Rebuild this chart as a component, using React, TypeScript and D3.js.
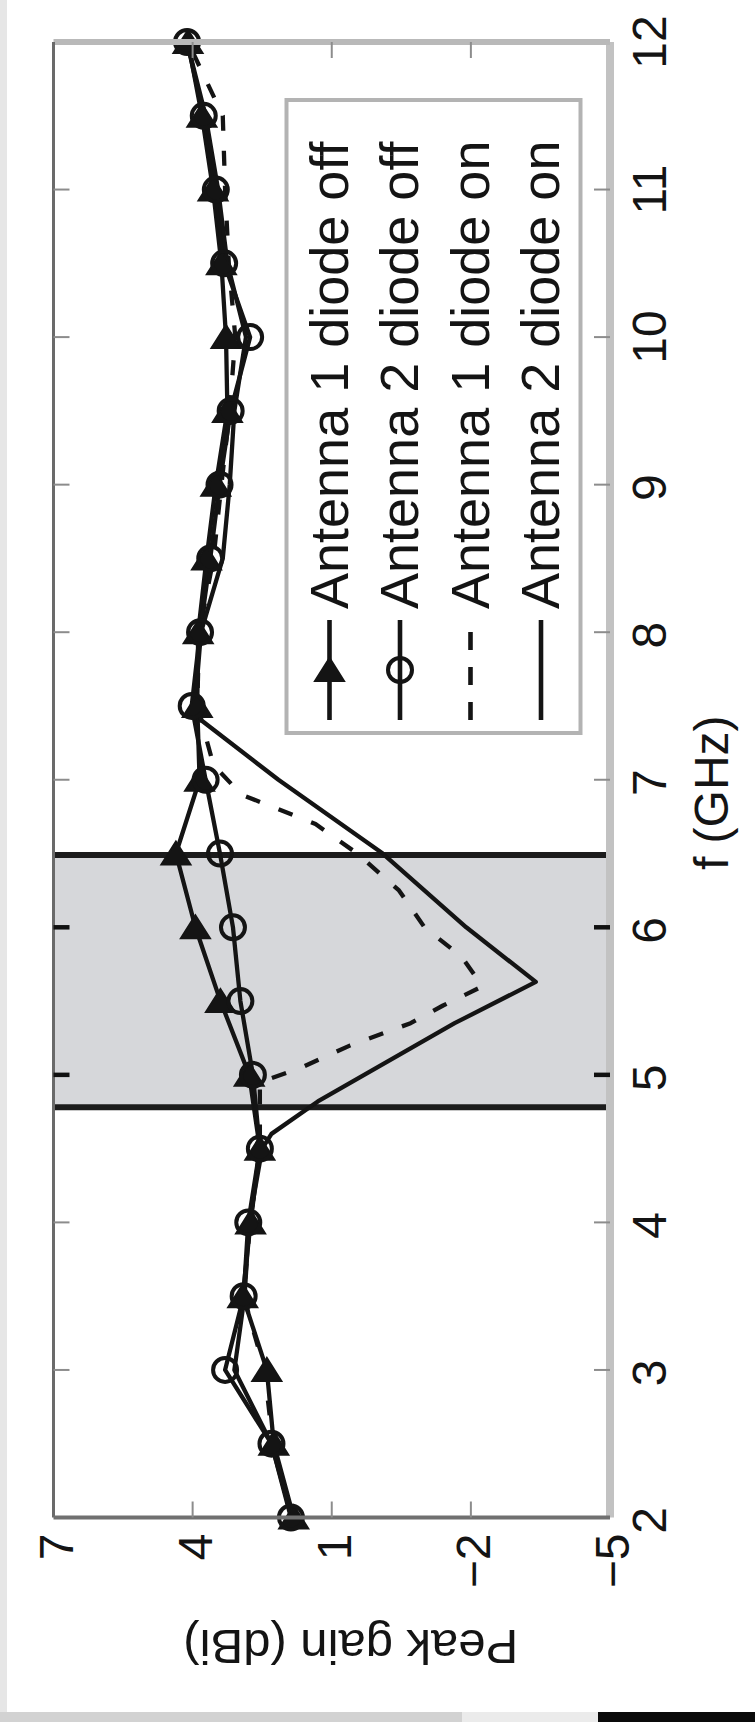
import React from 'react';
import * as d3 from 'd3';

// Frequency grid of the measured (diode off) curves, GHz
const freqOff = [2, 2.5, 3, 3.5, 4, 4.5, 5, 5.5, 6, 6.5, 7, 7.5, 8, 8.5, 9, 9.5, 10, 10.5, 11, 11.5, 12];
// Peak gain, dBi
const ant1Off = [1.82, 2.25, 2.4, 2.92, 2.75, 2.55, 2.78, 3.4, 3.94, 4.36, 3.85, 3.9, 3.88, 3.7, 3.5, 3.25, 3.28, 3.38, 3.56, 3.8, 4.1];
const ant2Off = [1.88, 2.3, 3.3, 2.9, 2.8, 2.55, 2.7, 2.97, 3.13, 3.41, 3.72, 4.02, 3.84, 3.62, 3.42, 3.18, 2.76, 3.32, 3.5, 3.76, 4.12];

// Diode on curves (notch around 5.6 GHz)
const freqAnt1On = [2, 2.5, 3, 3.5, 4, 4.5, 4.95, 5.05, 5.2, 5.35, 5.47, 5.6, 5.8, 6.0, 6.25, 6.5, 6.7, 6.9, 7.1, 7.5, 8, 8.5, 9, 9.5, 10, 10.5, 11, 11.5, 12];
const ant1On = [1.84, 2.27, 2.45, 2.9, 2.76, 2.55, 2.55, 1.65, 0.6, -0.7, -1.4, -2.25, -1.8, -1.0, -0.45, 0.45, 1.35, 2.95, 3.55, 3.9, 3.86, 3.55, 3.38, 3.2, 3.08, 3.22, 3.3, 3.35, 4.1];
const freqAnt2On = [2, 2.5, 3, 3.5, 4, 4.5, 4.6, 4.82, 5.35, 5.63, 6.0, 6.5, 7.0, 7.4, 7.5, 8, 8.5, 9, 9.5, 10, 10.5, 11, 11.5, 12];
const ant2On = [1.86, 2.3, 3.1, 2.88, 2.78, 2.5, 2.3, 1.3, -1.65, -3.4, -1.9, -0.1, 2.15, 3.8, 3.95, 3.82, 3.35, 3.2, 3.1, 2.85, 3.25, 3.45, 3.72, 4.12];

const freqTicks = [2, 3, 4, 5, 6, 7, 8, 9, 10, 11, 12];
const gainTicks = [7, 4, 1, -2, -5];
const notchBand = [4.78, 6.49];
const legendLabels = ['Antenna 1 diode off', 'Antenna 2 diode off', 'Antenna 1 diode on', 'Antenna 2 diode on'];

const FONT = '"Liberation Sans", Arial, Helvetica, sans-serif';
const INK = '#141414';

type Pt = [number, number];
const pair = (f: number[], g: number[]): Pt[] => f.map((v, i) => [v, g[i]] as Pt);
const fmtGain = (g: number) => (g < 0 ? '\u2212' + Math.abs(g) : String(g));

export default function App() {
  // plot frame on the page (the chart is drawn turned a quarter turn)
  const left = 53.5;
  const right = 610;
  const top = 42;
  const bottom = 1517.5;
  const W = bottom - top; // frequency extent
  const H = right - left; // gain extent

  const x = d3.scaleLinear().domain([2, 12]).range([0, W]);
  const y = d3.scaleLinear().domain([-5, 7]).range([H, 0]);
  const line = d3.line<Pt>().x(d => x(d[0])).y(d => y(d[1]));

  const triPath = 'M12,0L-11,-14.5L-11,14.5Z';
  const dash = '15 20';
  const lw = 4.3;

  const a1off = pair(freqOff, ant1Off);
  const a2off = pair(freqOff, ant2Off);
  const a1on = pair(freqAnt1On, ant1On);
  const a2on = pair(freqAnt2On, ant2On);

  const tickLen = 16;
  const bandTick = (f: number) => f > notchBand[0] && f < notchBand[1];

  // legend layout in chart coordinates
  const lgX0 = 784.5;
  const lgX1 = 1417.5;
  const lgY0 = 233;
  const lgY1 = 527;
  const entryY = (i: number) => 276 + i * 70.5;

  return (
    <svg
      width={755}
      height={1722}
      style={{ position: 'absolute', left: 0, top: 0, display: 'block' }}
      fontFamily={FONT}
    >
      <rect width={755} height={1722} fill="#ffffff" />
      <rect x={0} y={0} width={7} height={1712} fill="#e6e6e6" />
      <rect x={0} y={1712} width={462} height={10} fill="#d2d2d2" />
      <rect x={462} y={1712} width={136} height={10} fill="#ebebeb" />
      <rect x={598} y={1712} width={157} height={10} fill="#0a0a0a" />

      <g transform={`translate(${left},${bottom}) rotate(-90)`}>
        <defs>
          <clipPath id="plotClip">
            <rect x={0} y={0} width={W} height={H} />
          </clipPath>
        </defs>

        {/* notch band */}
        <rect
          x={x(notchBand[0])}
          y={0}
          width={x(notchBand[1]) - x(notchBand[0])}
          height={H}
          fill="#d6d7da"
        />
        {notchBand.map(f => (
          <line key={f} x1={x(f)} x2={x(f)} y1={0} y2={H} stroke="#1c1c1c" strokeWidth={6} />
        ))}

        {/* curves */}
        <g clipPath="url(#plotClip)" fill="none" stroke={INK} strokeWidth={lw} strokeLinejoin="round">
          <path d={line(a1off) || ''} />
          <path d={line(a2off) || ''} />
          <path d={line(a1on) || ''} strokeDasharray={dash} />
          <path d={line(a2on) || ''} />
        </g>
        <g>
          {a1off.map((d, i) => (
            <path key={'t' + i} d={triPath} transform={`translate(${x(d[0])},${y(d[1])})`} fill={INK} stroke={INK} strokeWidth={2} />
          ))}
          {a2off.map((d, i) => (
            <circle key={'c' + i} cx={x(d[0])} cy={y(d[1])} r={12} fill="none" stroke={INK} strokeWidth={4} />
          ))}
        </g>

        {/* frame */}
        <line x1={0} x2={W} y1={H} y2={H} stroke="#c2c2c2" strokeWidth={8} />
        <line x1={W} x2={W} y1={0} y2={H} stroke="#b9b9b9" strokeWidth={6} />
        <line x1={0} x2={W} y1={0} y2={0} stroke="#6a6a6a" strokeWidth={3} />
        <line x1={0} x2={0} y1={0} y2={H} stroke="#707070" strokeWidth={4} />

        {/* frequency ticks */}
        {freqTicks.slice(1, -1).map(f => {
          const dark = bandTick(f);
          const st = dark ? '#111' : '#8c8c8c';
          const sw = dark ? 4.5 : 2;
          return (
            <g key={'ft' + f}>
              <line x1={x(f)} x2={x(f)} y1={H} y2={H - tickLen} stroke={st} strokeWidth={sw} />
              <line x1={x(f)} x2={x(f)} y1={0} y2={tickLen} stroke={st} strokeWidth={sw} />
            </g>
          );
        })}
        {/* gain ticks */}
        {gainTicks.slice(1, -1).map(g => (
          <g key={'gt' + g}>
            <line x1={0} x2={tickLen} y1={y(g)} y2={y(g)} stroke="#8c8c8c" strokeWidth={2} />
            <line x1={W} x2={W - tickLen} y1={y(g)} y2={y(g)} stroke="#8c8c8c" strokeWidth={2} />
          </g>
        ))}

        {/* tick labels */}
        {freqTicks.map(f => (
          <text key={'fl' + f} x={x(f) - (f < 10 ? 3 : 0)} y={H + 56} textAnchor="middle" fontSize={48} fill={INK}>
            {f}
          </text>
        ))}
        {gainTicks.map(g => (
          <text key={'gl' + g} x={-16} y={y(g)} dy="0.4em" textAnchor="end" fontSize={48} fill={INK}>
            {fmtGain(g)}
          </text>
        ))}

        {/* axis titles */}
        <text x={W / 2 - 13} y={H + 118} textAnchor="middle" fontSize={48} fill={INK}>
          f (GHz)
        </text>
        <text
          transform={`translate(-112,${H / 2 + 19}) rotate(-90)`}
          textAnchor="middle"
          fontSize={49}
          fill={INK}
        >
          Peak gain (dBi)
        </text>

        {/* legend */}
        <rect
          x={lgX0}
          y={lgY0}
          width={lgX1 - lgX0}
          height={lgY1 - lgY0}
          fill="#ffffff"
          stroke="#b3b3b3"
          strokeWidth={4}
        />
        {legendLabels.map((lab, i) => {
          const ly = entryY(i);
          return (
            <g key={lab}>
              <line
                x1={797.5}
                x2={897.5}
                y1={ly}
                y2={ly}
                stroke={INK}
                strokeWidth={4.6}
                strokeDasharray={i === 2 ? '18 17' : undefined}
              />
              {i === 0 && (
                <path d={triPath} transform={`translate(847.5,${ly})`} fill={INK} stroke={INK} strokeWidth={2} />
              )}
              {i === 1 && <circle cx={847.5} cy={ly} r={12} fill="none" stroke={INK} strokeWidth={4} />}
              <text x={908.5} y={ly + 18} fontSize={54} fill={INK}>
                {lab}
              </text>
            </g>
          );
        })}
      </g>
    </svg>
  );
}
